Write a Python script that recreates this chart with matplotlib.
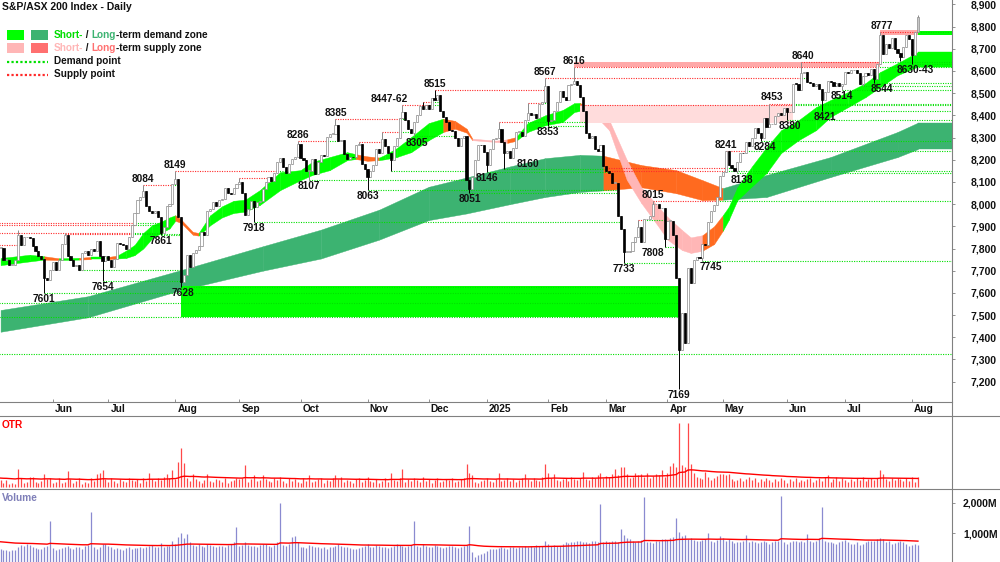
import numpy as np
import matplotlib
matplotlib.use("Agg")
import matplotlib.pyplot as plt
from matplotlib.lines import Line2D
from matplotlib.patches import Rectangle
import matplotlib.transforms as mtransforms

plt.rcParams['font.family'] = ['Liberation Sans', 'DejaVu Sans']
plt.rcParams['font.weight'] = 'bold'

# ---------------- data ----------------
closes = [
7804,7749,7749,7726,7727,7748,7860,7814,7850,7853,
7848,7812,7790,7766,7751,7665,7660,7702,7740,7703,
7749,7822,7861,7766,7750,7722,7724,7702,7778,7790,
7770,7796,7790,7835,7765,7745,7768,7749,7718,7752,
7824,7822,7817,7800,7852,7904,7959,8018,8031,8057,
7993,7971,7958,7970,7941,7870,7897,7990,7999,8092,
8114,7943,7649,7680,7772,7718,7778,7795,7811,7876,
7861,7970,7980,8011,7990,8018,8023,8071,8050,8045,
8071,8092,8098,8050,7950,7978,8013,7987,8010,8014,
8069,8099,8121,8104,8141,8192,8209,8165,8141,8179,
8203,8212,8270,8209,8199,8150,8150,8204,8137,8191,
8223,8215,8302,8317,8318,8355,8283,8291,8226,8205,
8212,8211,8266,8269,8180,8160,8120,8150,8175,8250,
8230,8295,8262,8230,8200,8260,8300,8390,8415,8380,
8340,8320,8370,8400,8440,8430,8445,8430,8480,8470,
8490,8420,8393,8370,8335,8330,8296,8260,8300,8309,
8110,8067,8120,8200,8268,8265,8235,8175,8250,8295,
8296,8340,8280,8230,8238,8210,8255,8325,8327,8309,
8378,8410,8400,8408,8390,8452,8460,8532,8374,8380,
8418,8462,8511,8484,8468,8537,8540,8555,8537,8481,
8419,8322,8296,8308,8249,8240,8268,8172,8150,8141,
8095,8095,7948,7890,7785,7786,7789,7828,7854,7895,
7829,7931,7931,7946,7999,7999,7982,7982,7843,7925,
7925,7859,7667,7344,7510,7375,7710,7646,7749,7762,
7759,7819,7816,7920,7968,7997,8031,8126,8145,8238,
8178,8163,8151,8190,8231,8229,8282,8261,8296,8343,
8321,8300,8386,8349,8360,8361,8396,8409,8400,8434,
8413,8416,8542,8541,8515,8589,8593,8548,8547,8531,
8540,8520,8470,8505,8555,8550,8530,8545,8530,8542,
8597,8589,8603,8603,8590,8539,8575,8590,8580,8610,
8565,8630,8760,8675,8720,8705,8750,8700,8680,8665,
8710,8760,8745,8671,8775,8843]

high_ext = {6: 7885, 22: 7870, 49: 8084, 60: 8149, 82: 8117, 102: 8286, 115: 8385,
            123: 8280, 131: 8325, 138: 8447, 145: 8462, 149: 8515, 171: 8370, 181: 8455,
            187: 8567, 197: 8616, 208: 8162, 209: 8149, 219: 7928, 224: 8015, 249: 8241,
            264: 8453, 275: 8640, 302: 8777, 315: 8850}
low_ext = {15: 7601, 27: 7702, 35: 7654, 55: 7861, 62: 7628, 87: 7918, 106: 8107,
           126: 8063, 134: 8150, 142: 8305, 161: 8051, 167: 8146, 173: 8160, 188: 8353,
           214: 7733, 228: 7808, 233: 7169, 241: 7745, 253: 8138, 261: 8284, 270: 8380,
           282: 8421, 289: 8514, 296: 8531, 300: 8544, 309: 8643, 313: 8630}

volume_m = [
500,460,450,430,470,450,560,620,600,640,
620,560,520,500,490,540,600,1400,520,470,
480,520,560,600,520,500,560,540,480,600,
620,1710,540,500,560,640,650,600,560,500,
520,480,470,520,540,500,510,530,560,520,
560,600,620,540,560,680,540,580,600,760,
640,880,1000,860,980,720,620,600,640,580,
560,660,620,600,560,580,600,560,620,660,
700,1200,600,620,700,620,600,580,560,620,
660,640,600,560,620,700,2000,620,600,640,
880,900,700,560,540,520,620,600,560,540,
520,560,500,540,560,600,640,580,560,540,
520,500,480,520,560,600,640,540,560,620,
600,560,540,520,560,600,640,620,580,560,
600,620,1400,600,560,640,580,560,540,620,
600,560,520,540,580,600,560,520,540,600,
620,1240,380,220,300,330,350,420,500,480,
480,520,540,520,500,540,560,520,540,560,
580,560,600,560,620,600,580,740,660,600,
620,580,600,640,700,680,720,700,740,760,
720,700,680,740,760,720,1960,720,740,700,
740,760,720,1150,950,860,800,740,720,760,
780,2190,720,700,680,760,740,800,820,780,
860,880,1500,1040,900,960,800,840,780,760,
740,780,820,1000,760,720,780,900,860,760,
800,740,680,700,720,760,930,720,760,700,
680,720,760,700,660,700,740,760,2220,700,
660,720,760,740,700,760,720,980,740,700,
740,860,1860,760,700,720,680,640,700,760,
780,720,660,640,700,620,660,720,740,760,
760,800,860,800,720,740,660,680,720,740,
700,640,600,620,640,620]
volume_avg_start = 730      # average volume shown at the left edge (M)

otr = [
7,4,7,3,4,3,18,9,4,5,10,10,5,4,6,13,8,9,4,5,
9,4,5,16,8,4,6,9,3,5,4,9,6,13,14,17,8,5,9,6,
4,8,6,5,9,7,6,8,4,9,6,14,8,6,9,7,10,13,9,17,
8,25,39,24,9,6,13,8,6,4,7,13,6,5,8,7,5,9,4,6,
7,9,8,9,22,5,8,12,6,7,12,8,6,5,9,7,10,6,4,9,
6,8,5,4,9,6,12,5,6,8,9,4,7,6,9,12,8,10,5,7,
6,4,8,9,5,7,10,6,5,8,4,6,9,5,14,7,6,9,18,5,
8,6,9,7,5,10,6,8,4,7,9,5,6,8,7,9,5,6,8,9,
23,14,12,5,4,6,7,9,6,5,8,14,6,7,9,6,8,5,7,9,
13,8,6,9,7,6,10,23,14,9,13,7,6,8,9,6,10,8,7,9,
15,8,7,10,9,12,14,9,11,10,13,18,12,20,20,13,9,10,14,12,
13,10,14,9,11,13,12,17,10,14,21,24,20,64,22,20,64,23,14,10,
9,8,15,10,7,9,11,13,13,12,13,8,6,7,9,6,8,10,7,9,
5,8,6,9,7,5,8,6,9,7,4,8,6,9,5,7,6,8,9,5,
7,9,6,10,12,5,8,10,6,9,7,5,8,6,9,7,10,6,8,9,
7,9,17,13,8,6,9,7,9,8,6,9,6,10,5,10]
otr_avg_start = 9

month_ticks = [18, 37, 60, 82, 103, 126, 147, 167, 188, 208, 229, 248, 270, 290, 313]
month_labels = ['Jun', 'Jul', 'Aug', 'Sep', 'Oct', 'Nov', 'Dec', '2025',
                'Feb', 'Mar', 'Apr', 'May', 'Jun', 'Jul', 'Aug']

# supply / demand points (bar index, level); -1 = from before the window
supply_pts = [(-1, 7916), (-1, 7906), (-1, 7871), (-1, 7816), (22, 7866), (49, 8084),
              (60, 8149), (82, 8117), (102, 8286), (115, 8385), (123, 8280), (131, 8325),
              (138, 8447), (145, 8462), (149, 8515), (171, 8370), (181, 8455), (187, 8567),
              (197, 8616), (199, 8446), (208, 8162), (209, 8149), (219, 7928), (224, 8015),
              (249, 8241), (264, 8453), (275, 8640), (302, 8777)]
demand_pts = [(-1, 7324), (-1, 7491), (-1, 7554), (15, 7601), (27, 7702), (35, 7654),
              (55, 7861), (62, 7628), (87, 7918), (106, 8107), (126, 8063), (134, 8150),
              (142, 8305), (161, 8051), (167, 8146), (173, 8160), (188, 8353), (214, 7733),
              (228, 7808), (241, 7745), (253, 8138), (261, 8284), (270, 8380), (282, 8421),
              (289, 8514), (296, 8531), (300, 8544), (313, 8630)]

# zones: (start index, bottom, top, term)
supply_zones = [(197, 8616, 8640, 'long'), (199, 8365, 8446, 'short'), (302, 8762, 8785, 'long')]
demand_zones = [(62, 7491, 7630, 'short'), (315, 8760, 8782, 'short')]

# short-term ribbon (sampled edges) and segment kinds
st_idx = [0,10,15,20,27,31,37,40,43,46,49,52,55,58,60,62,66,68,72,76,80,84,89,96,103,107,113,119,
          122,126,130,132,136,141,147,152,156,160,162,170,174,177,181,187,193,197,199,203,205,209,
          215,220,226,229,234,237,241,245,248,250,253,258,263,268,274,280,285,291,297,302,308,315,327]
st_top = [7757,7772,7765,7756,7758,7762,7762,7768,7790,7816,7870,7905,7920,7940,7950,7930,7875,7870,
          7950,7990,8015,8020,8063,8144,8153,8190,8212,8234,8225,8215,8210,8222,8252,8302,8365,8385,
          8375,8340,8295,8286,8292,8302,8365,8400,8424,8455,8456,8420,8396,8378,8200,8076,7986,7942,
          7883,7850,7860,7900,7950,7987,8076,8170,8256,8333,8378,8437,8469,8505,8545,8595,8635,8685,8685]
st_bot = [7725,7742,7750,7748,7750,7752,7752,7755,7757,7770,7800,7845,7870,7890,7925,7915,7862,7858,
          7905,7940,7960,7966,7996,8063,8108,8131,8153,8198,8203,8195,8198,8202,8212,8234,8288,8325,
          8340,8322,8288,8280,8276,8285,8325,8355,8370,8415,8420,8395,8388,8333,8110,8005,7897,7840,
          7793,7780,7790,7820,7880,7928,8018,8080,8140,8230,8288,8333,8393,8437,8482,8527,8581,8620,8620]
st_kind = "GGOGOGOGGG" "GGGGOOOGGG" "GGGGGGGGOO" "GGGGGOOOPP" "OGGGGGOOPP" "PPPPPPOOGG" "GGGGGGGGGG" "GG"

# long-term ribbon (sampled edges) and segment kinds
lt_idx = [0, 30, 62, 90, 110, 130, 147, 160, 175, 187, 199, 207, 220, 232, 241, 248, 263, 285, 308, 315, 327]
lt_top = [7523, 7585, 7703, 7810, 7885, 7975, 8078, 8120, 8170, 8207, 8222, 8218, 8176, 8153, 8108, 8072, 8131, 8212, 8325, 8367, 8367]
lt_bot = [7425, 7490, 7613, 7700, 7755, 7840, 7928, 7958, 8000, 8032, 8055, 8062, 8076, 8049, 8018, 8020, 8032, 8122, 8212, 8248, 8248]
lt_kind = "GGGGGGGGGGG" "OOOO" "GGGGG"

# labels: (text, bar position, price, side)
labels = [('7601', 15, 7601, 'L'), ('7654', 35, 7654, 'L'), ('8084', 49, 8084, 'H'),
          ('7861', 55, 7861, 'L'), ('8149', 60, 8149, 'H'), ('7628', 62.6, 7628, 'L'),
          ('7918', 87, 7918, 'L'), ('8286', 102, 8286, 'H'), ('8107', 106, 8107, 'L'),
          ('8385', 115, 8385, 'H'), ('8063', 126, 8063, 'L'), ('8447-62', 133.5, 8447, 'H'),
          ('8305', 143, 8305, 'L'), ('8515', 149, 8515, 'H'), ('8051', 161, 8051, 'L'),
          ('8146', 167, 8146, 'L'), ('8160', 181, 8210, 'L'), ('8353', 188, 8353, 'L'),
          ('8567', 187, 8567, 'H'), ('8616', 197, 8616, 'H'), ('7733', 214, 7733, 'L'),
          ('8015', 224, 8015, 'H'), ('7808', 224, 7808, 'L'), ('7169', 233, 7169, 'L'),
          ('7745', 244, 7745, 'L'), ('8241', 249, 8241, 'H'), ('8138', 254.5, 8138, 'L'),
          ('8284', 262.5, 8284, 'L'), ('8453', 265, 8453, 'H'), ('8380', 271, 8380, 'L'),
          ('8640', 275.5, 8640, 'H'), ('8421', 283, 8421, 'L'), ('8514', 289, 8514, 'L'),
          ('8544', 302.5, 8544, 'L'), ('8777', 302.5, 8777, 'H'), ('8630-43', 314, 8630, 'L')]

# ---------------- styles ----------------
W, H = 1000, 562
XMIN, XMAX = -0.2, 326.7
YMIN, YMAX = 7108.5, 8919.6
LIME = '#00FF00'
DKGREEN = '#3CB371'
PINK = '#FFB6B6'
SALMON = '#FF7070'
ORANGE = '#FF6A1F'
GRAY = '#808080'
FS = 7.3

def fy(ypx):
    return 1 - ypx / H

fig = plt.figure(figsize=(W / 100, H / 100), dpi=100)
ax = fig.add_axes([0, fy(402), 952 / W, 402 / H])
ax_otr = fig.add_axes([0, fy(489.3), 952 / W, 73.3 / H])
ax_vol = fig.add_axes([0, 0, 952 / W, 72.7 / H])

n = len(closes)
x = np.arange(n)
c = np.array(closes, dtype=float)
o = np.r_[c[0], c[:-1]]
hi = np.maximum(o, c)
lo = np.minimum(o, c)
for k, v in high_ext.items():
    hi[k] = max(hi[k], v)
for k, v in low_ext.items():
    lo[k] = min(lo[k], v)

# ---- ribbons ----
kind_col_st = {'G': LIME, 'O': ORANGE, 'P': PINK}
kind_col_lt = {'G': DKGREEN, 'O': ORANGE}
for i in range(len(lt_idx) - 1):
    col = kind_col_lt[lt_kind[i]]
    ax.fill_between(lt_idx[i:i + 2], lt_bot[i:i + 2], lt_top[i:i + 2], color=col,
                    lw=0.3, edgecolor=col, zorder=1)
for i in range(len(st_idx) - 1):
    col = kind_col_st[st_kind[i]]
    ax.fill_between(st_idx[i:i + 2], st_bot[i:i + 2], st_top[i:i + 2], color=col,
                    lw=0.3, edgecolor=col, zorder=1.2)

# ---- zones ----
def zone_end(start, bot, top, kind):
    for j in range(start + 1, n):
        if kind == 'S' and c[j] > top:
            return j
        if kind == 'D' and c[j] < bot:
            return j
    return XMAX + 1

for s, b, t, term in supply_zones:
    e = zone_end(s, b, t, 'S')
    col = '#FFA8A8' if term == 'long' else '#FFDCDC'
    ax.add_patch(Rectangle((s, b), e - s, t - b, facecolor=col, edgecolor='none', zorder=1.5))
for s, b, t, term in demand_zones:
    e = zone_end(s, b, t, 'D')
    ax.add_patch(Rectangle((s, b), e - s, t - b, facecolor=LIME, edgecolor='none', zorder=1.5))

# ---- supply / demand point lines ----
RED_L = '#FF2A2A'
GRN_L = '#00E000'
DOT = (0, (1, 1.2))

def level_segments(start, level, kind):
    segs = []
    s0 = start if start >= 0 else XMIN - 1
    if kind == 'S':
        t = next((j for j in range(start + 1, n) if c[j] > level), None)
        if t is None:
            return [(s0, XMAX + 1, 'S')]
        segs.append((s0, t, 'S'))
        t2 = next((j for j in range(t + 1, n) if c[j] < level), None)
        segs.append((t, t2 if t2 is not None else XMAX + 1, 'D'))
    else:
        t = next((j for j in range(start + 1, n) if c[j] < level), None)
        segs.append((s0, t if t is not None else XMAX + 1, 'D'))
    return segs

for s, lv in supply_pts:
    for a, b, k in level_segments(s, lv, 'S'):
        ax.plot([a, b], [lv, lv], color=RED_L if k == 'S' else GRN_L, lw=0.8, ls=DOT, zorder=2)
for s, lv in demand_pts:
    for a, b, k in level_segments(s, lv, 'D'):
        ax.plot([a, b], [lv, lv], color=GRN_L, lw=0.8, ls=DOT, zorder=2)

# ---- candles ----
up = c >= o
dn = ~up
ax.vlines(x[up], lo[up], hi[up], color='#8a8a8a', lw=0.7, zorder=3)
ax.vlines(x[dn], lo[dn], hi[dn], color='black', lw=0.7, zorder=3)
body_b = np.minimum(o, c)
body_h = np.maximum(np.abs(c - o), 2.5)
face_up = ['white'] * n
face_up[-1] = '#C8C8C8'
ax.bar(x[up], body_h[up], bottom=body_b[up], width=0.72,
       color=[face_up[i] for i in x[up]], edgecolor='#8a8a8a', lw=0.5, zorder=4)
ax.bar(x[dn], body_h[dn], bottom=body_b[dn], width=0.72,
       color='black', edgecolor='black', lw=0.5, zorder=4)

# ---- swing labels ----
for txt, xi, p, side in labels:
    if side == 'H':
        ax.annotate(txt, (xi, p), xytext=(0, 0.8), textcoords='offset points',
                    ha='center', va='bottom', fontsize=FS, fontweight='bold', color='#111111', zorder=6)
    else:
        ax.annotate(txt, (xi, p), xytext=(0, -0.8), textcoords='offset points',
                    ha='center', va='top', fontsize=FS, fontweight='bold', color='#111111', zorder=6)

# ---- main axes styling ----
ax.set_xlim(XMIN, XMAX)
ax.set_ylim(YMIN, YMAX)
for sp in ['top', 'left', 'right']:
    ax.spines[sp].set_visible(False)
ax.spines['bottom'].set_color(GRAY)
ax.spines['bottom'].set_linewidth(0.8)
ax.yaxis.tick_right()
yt = list(range(7200, 9000, 100))
ax.set_yticks(yt)
ax.set_yticklabels([f"{v:,}" for v in yt])
ax.tick_params(axis='y', direction='out', length=2, width=0.6, color=GRAY, pad=11.5,
               labelsize=7.5, labelcolor='#111111')
ax.set_xticks(month_ticks)
ax.tick_params(axis='x', direction='in', length=2.5, width=0.6, color=GRAY, labelbottom=False)
tr = mtransforms.blended_transform_factory(ax.transData, fig.transFigure)
for xi, lab in zip(month_ticks, month_labels):
    fig.text(xi + 0.7, fy(409.5), lab, transform=tr, ha='left', va='center',
             fontsize=FS, fontweight='bold', color='#111111')

def running_avg(vals, start, span):
    a = 2.0 / (span + 1)
    out = []
    cur = float(start)
    for v in vals:
        cur += (v - cur) * a
        out.append(cur)
    return np.array(out)

# ---- OTR panel ----
otr_v = np.array(otr[:n], dtype=float)
ax_otr.vlines(x, 0, otr_v, color='#FF4848', lw=0.9)
ax_otr.plot(x, running_avg(otr_v, otr_avg_start, 50), color='#FF0000', lw=1.0)
ax_otr.set_xlim(XMIN, XMAX)
ax_otr.set_ylim(-2.3, 71)
ax_otr.axis('off')
fig.text(2 / W, fy(425), 'OTR', color='#FF0000', fontsize=FS, fontweight='bold', ha='left', va='center')

# ---- Volume panel ----
vol_v = np.array(volume_m[:n], dtype=float)
ax_vol.vlines(x, 0, vol_v, color='#8A8AD0', lw=0.9)
ax_vol.plot(x, running_avg(vol_v, volume_avg_start, 60), color='#FF0000', lw=1.0)
ax_vol.set_xlim(XMIN, XMAX)
ax_vol.set_ylim(62, 2438)
for sp in ax_vol.spines.values():
    sp.set_visible(False)
ax_vol.set_xticks([])
ax_vol.yaxis.tick_right()
ax_vol.set_yticks([1000, 2000])
ax_vol.set_yticklabels(['1,000M', '2,000M'])
ax_vol.tick_params(axis='y', direction='out', length=2, width=0.6, color=GRAY, pad=6,
                   labelsize=7.5, labelcolor='#111111')
fig.text(2 / W, fy(498), 'Volume', color='#7F7FB8', fontsize=FS, fontweight='bold', ha='left', va='center')

# ---- frame lines ----
fig.add_artist(Line2D([952 / W, 952 / W], [0, 1], transform=fig.transFigure, color=GRAY, lw=0.8))
fig.add_artist(Line2D([0, 1], [fy(416), fy(416)], transform=fig.transFigure, color=GRAY, lw=0.8))
fig.add_artist(Line2D([0, 1], [fy(489.3), fy(489.3)], transform=fig.transFigure, color=GRAY, lw=0.8))

# ---- title & legend ----
fig.text(2 / W, fy(7.5), 'S&P/ASX 200 Index - Daily', fontsize=7.5, fontweight='bold',
         color='#111111', ha='left', va='center')

renderer = fig.canvas.get_renderer()

def rich_text(x_px, y_px, parts):
    xx = x_px
    for s, col in parts:
        t = fig.text(xx / W, fy(y_px), s, color=col, fontsize=7.2, fontweight='bold',
                     ha='left', va='center')
        bb = t.get_window_extent(renderer=renderer)
        xx += bb.width

fig.add_artist(Rectangle((7 / W, fy(40)), 17 / W, 10 / H, transform=fig.transFigure, facecolor=LIME, edgecolor='none'))
fig.add_artist(Rectangle((31 / W, fy(40)), 17 / W, 10 / H, transform=fig.transFigure, facecolor=DKGREEN, edgecolor='none'))
fig.add_artist(Rectangle((7 / W, fy(53)), 17 / W, 10 / H, transform=fig.transFigure, facecolor=PINK, edgecolor='none'))
fig.add_artist(Rectangle((31 / W, fy(53)), 17 / W, 10 / H, transform=fig.transFigure, facecolor=SALMON, edgecolor='none'))
fig.add_artist(Line2D([7 / W, 48 / W], [fy(62), fy(62)], transform=fig.transFigure, color=GRN_L, lw=1.6, ls=(0, (1, 1))))
fig.add_artist(Line2D([7 / W, 48 / W], [fy(74.5), fy(74.5)], transform=fig.transFigure, color=RED_L, lw=1.6, ls=(0, (1, 1))))
rich_text(54, 35, [('Short-', '#00DD00'), (' / ', '#111111'), ('Long', DKGREEN), ('-term demand zone', '#111111')])
rich_text(54, 48, [('Short-', PINK), (' / ', '#111111'), ('Long', SALMON), ('-term supply zone', '#111111')])
rich_text(54, 61.5, [('Demand point', '#111111')])
rich_text(54, 74, [('Supply point', '#111111')])

fig.savefig('out.png', dpi=100)
